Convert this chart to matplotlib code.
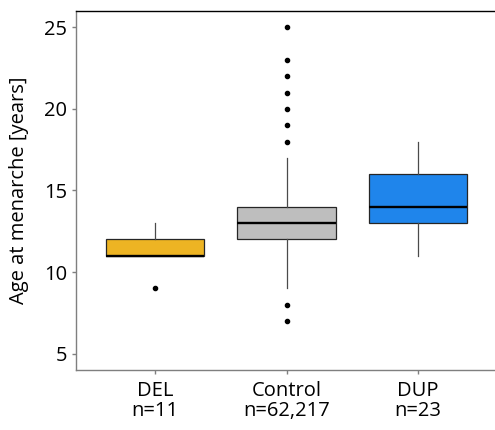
import matplotlib
matplotlib.use("Agg")
import matplotlib.pyplot as plt

# box summaries for age at menarche per group
groups = ["DEL", "Control", "DUP"]
counts = ["n=11", "n=62,217", "n=23"]
q1 = [11, 12, 13]
med = [11, 13, 14]
q3 = [12, 14, 16]
whis_lo = [11, 9, 11]
whis_hi = [13, 17, 18]
outliers = [
    [9],
    [7, 8, 18, 19, 20, 21, 22, 23, 25],
    [],
]
fills = ["#EDB423", "#BEBEBE", "#1F85EB"]

plt.rcParams['font.family'] = ['Open Sans', 'DejaVu Sans']

fig = plt.figure(figsize=(4.95, 4.30), dpi=100)
ax = fig.add_axes([76 / 495, 60 / 430, 421 / 495, 359 / 430])

stats = []
for i, g in enumerate(groups):
    stats.append(dict(label=g, q1=q1[i], med=med[i], q3=q3[i],
                      whislo=whis_lo[i], whishi=whis_hi[i], fliers=outliers[i]))

bp = ax.bxp(stats, positions=[1, 2, 3], widths=0.75, patch_artist=True,
            showcaps=False,
            boxprops=dict(edgecolor="#262626", linewidth=0.9),
            medianprops=dict(color="black", linewidth=1.7),
            whiskerprops=dict(color="#4a4a4a", linewidth=0.9),
            flierprops=dict(marker="o", markersize=3.0, markerfacecolor="black",
                            markeredgecolor="black"))
for patch, c in zip(bp["boxes"], fills):
    patch.set_facecolor(c)

ax.set_xlim(0.4, 3.6)
ax.set_ylim(4.0, 26.0)
ax.set_yticks([5, 10, 15, 20, 25])
ax.set_xticks([1, 2, 3])
ax.set_xticklabels([f"{g}\n{n}" for g, n in zip(groups, counts)], linespacing=1.0)
ax.set_ylabel("Age at menarche [years]", fontsize=14.5, labelpad=11)

ax.tick_params(labelsize=14.5, color="#7f7f7f", length=3, width=1)
ax.tick_params(axis="x", pad=5)
for side in ["left", "bottom"]:
    ax.spines[side].set_color("#7f7f7f")
    ax.spines[side].set_linewidth(1.0)
for side in ["top", "right"]:
    ax.spines[side].set_color("black")
    ax.spines[side].set_linewidth(1.0)

fig.savefig("out.png", dpi=100)
